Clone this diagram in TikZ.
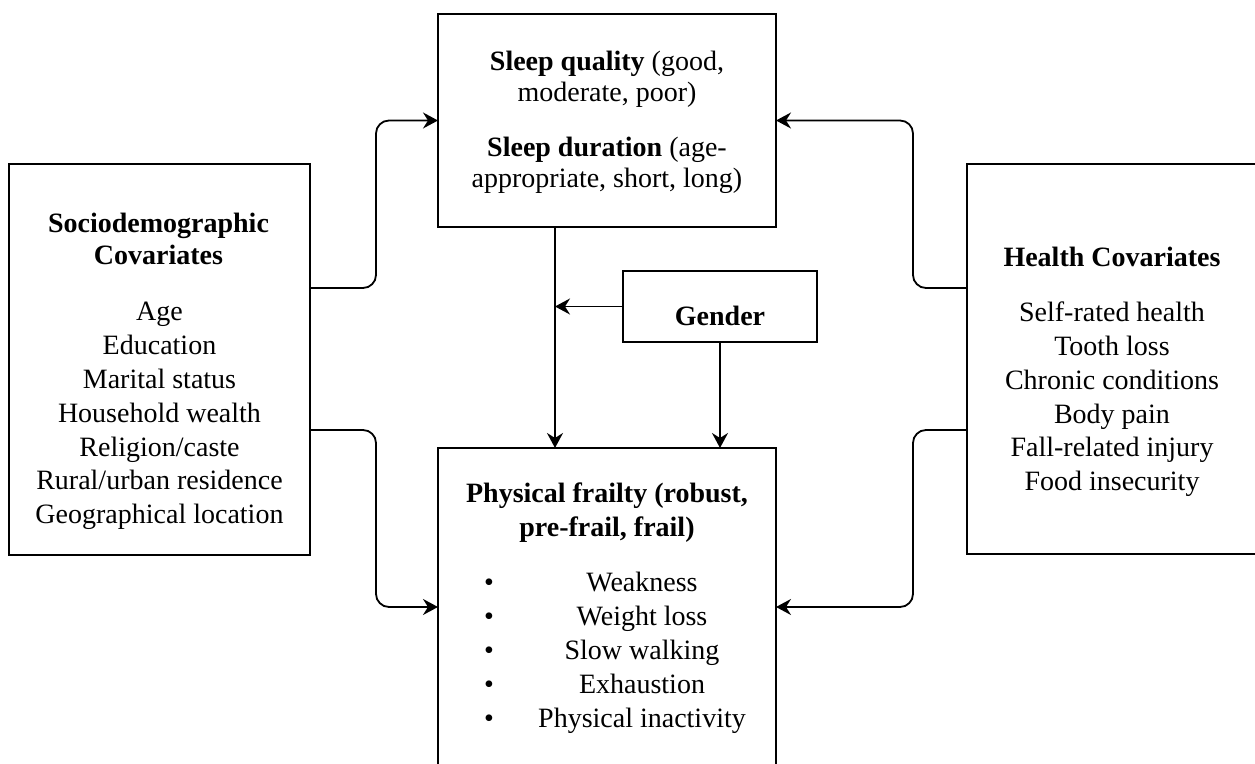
\documentclass[tikz,border=0pt]{standalone}
\usepackage{fontspec}
\setmainfont{Liberation Serif}
\usetikzlibrary{arrows.meta}
\begin{document}
\begin{tikzpicture}[x=0.5pt,y=-0.5pt,
  box/.style={draw, line width=0.9pt, inner sep=0pt, outer sep=0pt},
  conn/.style={line width=0.9pt, -{Stealth[length=7.5pt,width=8pt,inset=2.5pt]}, rounded corners=6.5pt},
  txt/.style={font=\fontsize{14}{16.9}\selectfont, align=center, anchor=base, inner sep=0pt},
  ttl/.style={txt, font=\fontsize{14}{16}\selectfont\bfseries},
]
\path[use as bounding box, clip] (0,0) rectangle (1255,764);

% boxes
\node[box, minimum width=150.5pt, minimum height=195.5pt] (L) at (159.5,359.5) {};
\node[box, minimum width=169pt, minimum height=106.5pt] (T) at (607,120.5) {};
\node[box, minimum width=97pt, minimum height=35.5pt] (G) at (720,306.5) {};
\node[box, minimum width=169pt, minimum height=159pt] (B) at (607,607) {};
\node[box, minimum width=145pt, minimum height=195pt] (R) at (1112,359) {};

% texts (anchor = baseline of the last line)
\node[ttl] (Lt) at (158.5,265) {Sociodemographic\\Covariates};
\node[txt] (Li) at (159.5,523.8) {Age\\Education\\Marital status\\Household wealth\\Religion/caste\\Rural/urban residence\\Geographical location};

\node[txt, font=\fontsize{14}{15.5}\selectfont] (Tq) at (607,101.7) {\textbf{Sleep quality} (good,\\moderate, poor)};
\node[txt, font=\fontsize{14}{15.5}\selectfont] (Td) at (607,187.7) {\textbf{Sleep duration} (age-\\appropriate, short, long)};

\node[ttl] (Gt) at (720,325.7) {Gender};

\node[ttl, font=\fontsize{14}{17}\selectfont\bfseries] (Bt) at (607,537) {Physical frailty (robust,\\pre-frail, frail)};
\node[txt, font=\fontsize{14}{16.95}\selectfont] (Bi) at (642,727.3) {Weakness\\Weight loss\\Slow walking\\Exhaustion\\Physical inactivity};
\node[txt, font=\fontsize{14}{16.95}\selectfont] (Bb) at (489,727.3) {•\\•\\•\\•\\•};

\node[ttl] (Rt) at (1112,266.7) {Health Covariates};
\node[txt] (Ri) at (1112,490.7) {Self-rated health\\Tooth loss\\Chronic conditions\\Body pain\\Fall-related injury\\Food insecurity};

% connectors
\coordinate (a1) at (376,288);
\coordinate (a2) at (376,430);
\coordinate (b1) at (913,288);
\coordinate (b2) at (913,430);
\coordinate (v) at (555,0);

\draw[conn] (L.east |- a1) -- (a1) |- (T.west);
\draw[conn] (L.east |- a2) -- (a2) |- (B.west);
\draw[conn] (R.west |- b1) -- (b1) |- (T.east);
\draw[conn] (R.west |- b2) -- (b2) |- (B.east);
\draw[conn] (v |- T.south) -- (v |- B.north);
\draw[conn] (G.west) -- (v |- G.west);
\draw[conn] (G.south) -- (G.south |- B.north);
\end{tikzpicture}
\end{document}
